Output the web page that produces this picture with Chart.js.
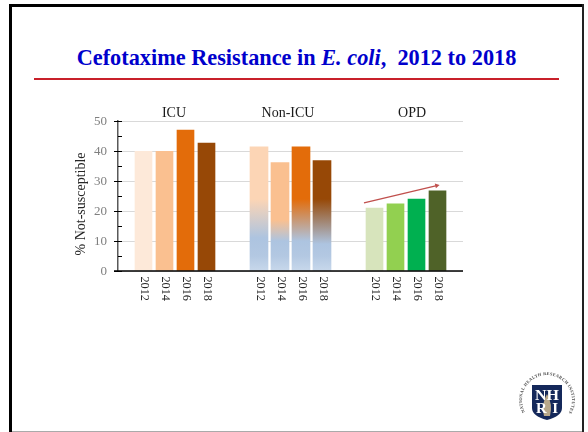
<!DOCTYPE html>
<html>
<head>
<meta charset="utf-8">
<title>Cefotaxime Resistance in E. coli</title>
<script src="https://cdn.jsdelivr.net/npm/chart.js@4/dist/chart.umd.min.js"></script>
<style>
  html, body { margin: 0; padding: 0; background: #fff; }
  #slide { position: relative; width: 588px; height: 432px; overflow: hidden; font-family: "Liberation Serif", serif; }
  #slide canvas { position: absolute; left: 0; top: 0; }
  .edge { position: absolute; }
  h1 { position: absolute; left: 0; width: 593px; top: 44px; margin: 0; text-align: center; font-size: 22.3px; line-height: 28px; font-weight: bold; color: #0000cc; white-space: pre; }
  #rule { position: absolute; left: 34px; width: 525px; top: 78px; height: 2px; background: #c8202a; }
  #logo { position: absolute; left: 517px; top: 372px; }
</style>
</head>
<body>
<div id="slide">
  <div class="edge" style="left:9px;top:4px;width:3px;height:428px;background:#000"></div>
  <div class="edge" style="left:9px;top:4px;width:575px;height:3px;background:#000"></div>
  <div class="edge" style="left:582px;top:4px;width:2px;height:428px;background:#222"></div>
  <div class="edge" style="left:12px;top:431px;width:570px;height:1px;background:#aaa"></div>
  <h1>Cefotaxime Resistance in <i>E. coli</i>,  2012 to 2018</h1>
  <div id="rule"></div>
  <canvas id="chart" width="588" height="432"></canvas>
  <svg id="logo" width="60" height="56" viewBox="0 0 60 56">
    <defs><path id="ring" d="M 8 40 A 25 25 0 1 1 52 40"></path></defs>
    <text font-family="Liberation Serif" font-size="4.4" font-weight="bold" fill="#4a4a4a">
      <textPath href="#ring" textLength="104" lengthAdjust="spacing">NATIONAL HEALTH RESEARCH INSTITUTES</textPath>
    </text>
    <path d="M 15 13 L 45 13 L 45 36 Q 45 44 30 48 Q 15 44 15 36 Z" fill="#14285a"></path>
    <path d="M 30 22 Q 36 32 33 44 L 27 44 Q 24 32 30 22 Z" fill="#b8a88a"></path>
    <text x="18" y="28" font-family="Liberation Serif" font-size="15" font-weight="bold" fill="#fff" textLength="24" lengthAdjust="spacingAndGlyphs">NH</text>
    <text x="19" y="41" font-family="Liberation Serif" font-size="15" font-weight="bold" fill="#fff" textLength="22" lengthAdjust="spacing">RI</text>
  </svg>
</div>

<script>
const years = ["2012", "2014", "2016", "2018"];
const wards = ["ICU", "Non-ICU", "OPD"];

const icuValues = [39.9, 39.9, 47.0, 42.6];
const nonIcuValues = [41.4, 36.1, 41.4, 36.8];
const opdValues = [21.0, 22.4, 24.0, 26.7];

const icuColors = ["#fde9d9", "#fac090", "#e36c0a", "#974806"];
const nonIcuColors = ["#fcd5b5", "#fac090", "#e36c0a", "#974806"];
const opdColors = ["#d7e4bc", "#92d050", "#00b050", "#4f6228"];

// Non-ICU bars fade into blue between these two values
const fadeStart = [24, 17, 24, 24];
const fadeEnd = [11, 10, 10, 9];

const trendFrom = { x: 10.5, y: 22.7 };
const trendTo = { x: 14.1, y: 28.7 };

// x units are one bar slot; each ward starts at its own offset
const wardStart = [0, 5.5, 11];
const wardLabelAt = [1.45, 6.88, 12.79];

function points(values, ward) {
  return values.map((v, i) => ({ x: wardStart[ward] + i, y: v }));
}

function nonIcuFill(ctx) {
  const chart = ctx.chart;
  if (!chart.chartArea || ctx.dataIndex === undefined) return nonIcuColors[0];
  const i = ctx.dataIndex;
  const y = chart.scales.y;
  const top = y.getPixelForValue(50);
  const bottom = y.getPixelForValue(0);
  const g = chart.ctx.createLinearGradient(0, top, 0, bottom);
  const at = v => (50 - v) / 50;
  g.addColorStop(0, nonIcuColors[i]);
  g.addColorStop(at(fadeStart[i]), nonIcuColors[i]);
  g.addColorStop(at(fadeEnd[i]), "#adc4e0");
  g.addColorStop(at(5), "#b3c8e2");
  g.addColorStop(1, "#c8d8eb");
  return g;
}

// y axis ticks cross the axis at major values, minor ones sit on the inside
const axisTicks = {
  id: "axisTicks",
  afterDraw(chart) {
    const c = chart.ctx, y = chart.scales.y, x0 = chart.chartArea.left;
    c.save();
    c.strokeStyle = "#000";
    c.lineWidth = 1;
    y.ticks.forEach(t => {
      const py = Math.round(y.getPixelForValue(t.value)) + 0.5;
      c.beginPath();
      c.moveTo(t.value % 10 === 0 ? x0 - 4 : x0, py);
      c.lineTo(x0 + 4, py);
      c.stroke();
    });
    // x axis runs a little past the y axis
    const py0 = y.getPixelForValue(0);
    c.lineWidth = 1.5;
    c.beginPath();
    c.moveTo(x0 - 4, py0);
    c.lineTo(chart.chartArea.right, py0);
    c.stroke();
    c.restore();
  }
};

// ward headers, year labels (turned clockwise, which the scale can't do) and y title
const axisText = {
  id: "axisText",
  afterDraw(chart) {
    const c = chart.ctx, x = chart.scales.x, area = chart.chartArea;
    c.save();
    c.font = '14px "Liberation Serif"';
    c.fillStyle = "#1a1a1a";
    c.textAlign = "center";
    c.textBaseline = "middle";
    wards.forEach((w, i) => c.fillText(w, x.getPixelForValue(wardLabelAt[i]), area.top - 8));

    c.font = '12.2px "Liberation Serif"';
    c.fillStyle = "#262626";
    c.textAlign = "left";
    wardStart.forEach(start => years.forEach((yr, i) => {
      c.save();
      c.translate(x.getPixelForValue(start + i) + 1, area.bottom + 5.5);
      c.rotate(Math.PI / 2);
      c.fillText(yr, 0, 0);
      c.restore();
    }));

    c.font = '14px "Liberation Serif"';
    c.textAlign = "center";
    c.translate(81.5, 204);
    c.rotate(-Math.PI / 2);
    c.fillText("% Not-susceptible", 0, 0);
    c.restore();
  }
};

const trendArrow = {
  id: "trendArrow",
  afterDatasetsDraw(chart) {
    const c = chart.ctx, sx = chart.scales.x, sy = chart.scales.y;
    const x1 = sx.getPixelForValue(trendFrom.x), y1 = sy.getPixelForValue(trendFrom.y);
    const x2 = sx.getPixelForValue(trendTo.x), y2 = sy.getPixelForValue(trendTo.y);
    const a = Math.atan2(y2 - y1, x2 - x1);
    c.save();
    c.strokeStyle = c.fillStyle = "#c0504d";
    c.lineWidth = 1.4;
    c.beginPath();
    c.moveTo(x1, y1);
    c.lineTo(x2 - 3 * Math.cos(a), y2 - 3 * Math.sin(a));
    c.stroke();
    c.beginPath();
    c.moveTo(x2, y2);
    c.lineTo(x2 - 5 * Math.cos(a - 0.5), y2 - 5 * Math.sin(a - 0.5));
    c.lineTo(x2 - 5 * Math.cos(a + 0.5), y2 - 5 * Math.sin(a + 0.5));
    c.closePath();
    c.fill();
    c.restore();
  }
};

new Chart(document.getElementById("chart"), {
  type: "bar",
  data: {
    datasets: [
      { label: wards[0], data: points(icuValues, 0), backgroundColor: icuColors, barThickness: 17 },
      { label: wards[1], data: points(nonIcuValues, 1), backgroundColor: nonIcuFill, barThickness: 18 },
      { label: wards[2], data: points(opdValues, 2), backgroundColor: opdColors, barThickness: 17 }
    ]
  },
  options: {
    responsive: false,
    animation: false,
    grouped: false,
    layout: { padding: { top: 121, right: 125, left: 0, bottom: 0 } },
    plugins: { legend: { display: false }, tooltip: { enabled: false } },
    scales: {
      x: {
        type: "linear",
        offset: false,
        min: -1.214,
        max: 15.214,
        afterFit(scale) { scale.height = 161; },
        grid: { display: false },
        border: { display: false },
        ticks: { display: false }
      },
      y: {
        min: 0,
        max: 50,
        afterFit(scale) { scale.width = 118; },
        grid: {
          drawTicks: false,
          lineWidth: 1,
          color: ctx => (ctx.tick.value % 10 === 0 ? "#d9d9d9" : "transparent")
        },
        border: { color: "#595959", width: 1.5 },
        ticks: {
          stepSize: 5,
          autoSkip: false,
          padding: 11,
          labelOffset: 1,
          color: "#7f7f7f",
          font: { family: "Liberation Serif", size: 13 },
          callback: v => (v % 10 === 0 ? v : "")
        }
      }
    }
  },
  plugins: [axisTicks, axisText, trendArrow]
});
</script>
</body>
</html>
